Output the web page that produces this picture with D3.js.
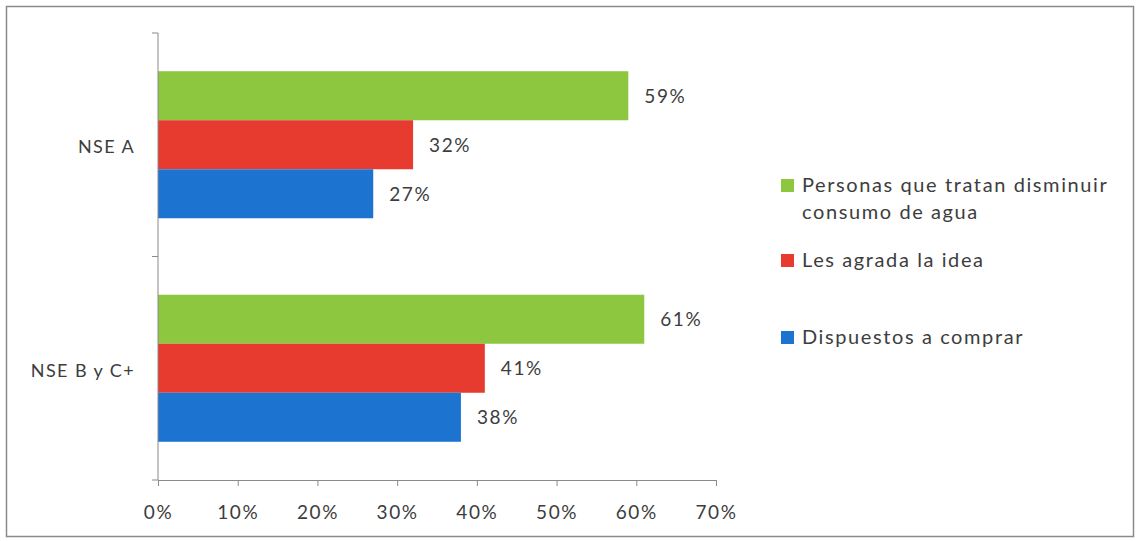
<!DOCTYPE html>
<html>
<head>
<meta charset="utf-8">
<script src="https://cdn.jsdelivr.net/npm/d3@7"></script>
<style>
  html, body { margin: 0; padding: 0; background: #fff; }
  svg text { font-family: Lato, "Open Sans", sans-serif; fill: #3d3d3d; }
</style>
</head>
<body>
<svg id="chart" width="1139" height="541"></svg>
<script>
// Categories, series and values
const categories = ["NSE A", "NSE B y C+"];
const seriesNames = [
  "Personas que tratan disminuir consumo de agua",
  "Les agrada la idea",
  "Dispuestos a comprar"
];
const seriesColors = ["#8dc63f", "#e63b2e", "#1c74d0"];
const personasValues = [59, 61];
const agradaValues = [32, 41];
const dispuestosValues = [27, 38];
const xTicks = [0, 10, 20, 30, 40, 50, 60, 70];

const seriesValues = [personasValues, agradaValues, dispuestosValues];

const svg = d3.select("#chart");
const FONT = "Lato, 'Open Sans', sans-serif";
const SPACING = "1.6px";

// Outer frame
svg.append("rect")
  .attr("x", 6.5).attr("y", 6.5)
  .attr("width", 1127).attr("height", 530)
  .attr("fill", "#fff").attr("stroke", "#8a8a8a").attr("stroke-width", 1.5);

const plot = { left: 158, right: 716, top: 33, bottom: 480 };

const x = d3.scaleLinear().domain([0, 70]).range([plot.left, plot.right]);
const y = d3.scaleBand().domain(categories).range([plot.top, plot.bottom]).padding(0);
const ySub = d3.scaleBand().domain(d3.range(seriesNames.length))
  .range([0, y.bandwidth()]).paddingOuter(0.78).paddingInner(0);

// Bars with value labels
const groups = svg.append("g").selectAll("g")
  .data(categories)
  .join("g")
  .attr("transform", c => `translate(0,${y(c)})`);

groups.each(function(c, ci) {
  const g = d3.select(this);
  seriesValues.forEach((vals, si) => {
    g.append("rect")
      .attr("x", x(0))
      .attr("y", ySub(si))
      .attr("width", x(vals[ci]) - x(0))
      .attr("height", ySub.bandwidth())
      .attr("fill", seriesColors[si]);
    g.append("text")
      .attr("x", x(vals[ci]) + 16)
      .attr("y", ySub(si) + ySub.bandwidth() / 2)
      .attr("dy", "0.36em")
      .attr("font-size", 19)
      .attr("letter-spacing", SPACING)
      .text(vals[ci] + "%");
  });
});

// X axis
const xAxis = svg.append("g")
  .attr("transform", `translate(0,${plot.bottom})`)
  .call(d3.axisBottom(x).tickValues(xTicks).tickFormat(d => d + "%").tickSize(6).tickPadding(20));
xAxis.select(".domain").attr("stroke", "#8a8a8a");
xAxis.selectAll(".tick line").attr("stroke", "#8a8a8a");
xAxis.selectAll(".tick text")
  .attr("font-size", 19).attr("font-family", FONT).attr("fill", "#3d3d3d")
  .attr("letter-spacing", SPACING);

// Y axis: vertical line with boundary ticks between categories
const yAxisG = svg.append("g");
yAxisG.append("line")
  .attr("x1", plot.left).attr("x2", plot.left)
  .attr("y1", plot.top).attr("y2", plot.bottom)
  .attr("stroke", "#8a8a8a");
const bounds = categories.map(c => y(c)).concat([plot.bottom]);
yAxisG.selectAll("line.b")
  .data(bounds)
  .join("line")
  .attr("class", "b")
  .attr("x1", plot.left - 6).attr("x2", plot.left)
  .attr("y1", d => d).attr("y2", d => d)
  .attr("stroke", "#8a8a8a");
yAxisG.selectAll("text")
  .data(categories)
  .join("text")
  .attr("x", 135)
  .attr("y", c => y(c) + y.bandwidth() / 2 + 2)
  .attr("dy", "0.36em")
  .attr("text-anchor", "end")
  .attr("font-size", 18)
  .attr("letter-spacing", "1.4px")
  .text(c => c);

// Legend
const legendItems = [
  { lines: ["Personas que tratan disminuir", "consumo de agua"], y: 185, color: seriesColors[0] },
  { lines: ["Les agrada la idea"], y: 260, color: seriesColors[1] },
  { lines: ["Dispuestos a comprar"], y: 337, color: seriesColors[2] }
];
const legend = svg.append("g");
legendItems.forEach(item => {
  legend.append("rect")
    .attr("x", 781).attr("y", item.y - 6)
    .attr("width", 13).attr("height", 13)
    .attr("fill", item.color);
  item.lines.forEach((ln, i) => {
    legend.append("text")
      .attr("x", 802)
      .attr("y", item.y + i * 27)
      .attr("dy", "0.36em")
      .attr("font-size", 20)
      .attr("letter-spacing", SPACING)
      .text(ln);
  });
});
</script>
</body>
</html>
